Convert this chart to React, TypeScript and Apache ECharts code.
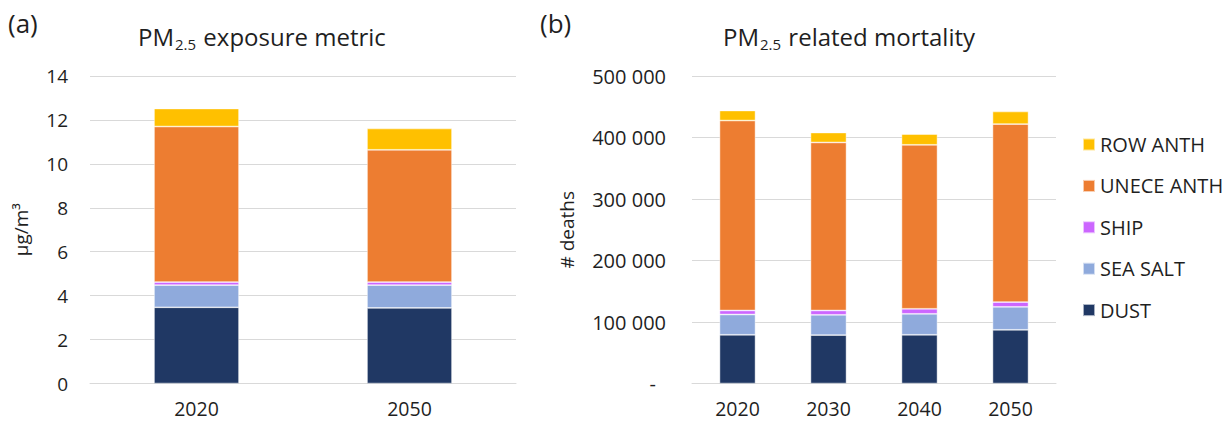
import React, { useEffect, useRef } from "react";
import * as echarts from "echarts";

// Panel (a): PM2.5 exposure metric, µg/m³
const exposureYears = ["2020", "2050"];
const exposureDust = [3.47, 3.44];
const exposureSeaSalt = [1.01, 1.04];
const exposureShip = [0.14, 0.14];
const exposureUnece = [7.08, 6.02];
const exposureRow = [0.82, 0.97];

// Panel (b): PM2.5 related mortality, # deaths
const mortalityYears = ["2020", "2030", "2040", "2050"];
const mortalityDust = [79200, 78700, 79200, 87300];
const mortalitySeaSalt = [33000, 33000, 34100, 37400];
const mortalityShip = [6500, 7000, 8200, 7700];
const mortalityUnece = [308900, 273200, 266600, 289400];
const mortalityRow = [16300, 16200, 17400, 20500];

const sourceNames = ["DUST", "SEA SALT", "SHIP", "UNECE ANTH", "ROW ANTH"];
const sourceColors = ["#203864", "#8FAADC", "#CC66FF", "#ED7D31", "#FFC000"];
const legendOrder = ["ROW ANTH", "UNECE ANTH", "SHIP", "SEA SALT", "DUST"];

const FONT = "Open Sans";
const TEXT = "#1f1f1f";
const GRID_LINE = "#d9d9d9";

export default function App() {
  const ref = useRef<HTMLDivElement>(null);

  useEffect(() => {
    if (!ref.current) return;
    const chart = echarts.init(ref.current, undefined, { renderer: "svg" });

    const exposureData = [exposureDust, exposureSeaSalt, exposureShip, exposureUnece, exposureRow];
    const mortalityData = [mortalityDust, mortalitySeaSalt, mortalityShip, mortalityUnece, mortalityRow];

    const barStyle = (i: number) => ({
      color: sourceColors[i],
      borderColor: "rgba(255,255,255,0.6)",
      borderWidth: 0.75,
    });

    const series: any[] = [];
    sourceNames.forEach((name, i) => {
      series.push({
        name,
        type: "bar",
        stack: "exposure",
        xAxisIndex: 0,
        yAxisIndex: 0,
        barWidth: 85,
        itemStyle: barStyle(i),
        data: exposureData[i],
      });
    });
    sourceNames.forEach((name, i) => {
      series.push({
        name,
        type: "bar",
        stack: "mortality",
        xAxisIndex: 1,
        yAxisIndex: 1,
        barWidth: 36,
        itemStyle: barStyle(i),
        data: mortalityData[i],
      });
    });

    const titleRich = {
      m: { fontFamily: FONT, fontSize: 24, fontWeight: "normal", color: TEXT, lineHeight: 30, verticalAlign: "middle" },
      s: {
        fontFamily: FONT,
        fontSize: 15,
        fontWeight: "normal",
        color: TEXT,
        lineHeight: 16,
        verticalAlign: "bottom",
        padding: [0, 1, 0, 1],
      },
    };

    const catAxis = (data: string[], gridIndex: number) => ({
      type: "category",
      gridIndex,
      data,
      axisLine: { show: true, lineStyle: { color: GRID_LINE, width: 1 } },
      axisTick: { show: false },
      axisLabel: { fontFamily: FONT, fontSize: 19.5, color: TEXT, margin: 15.5, lineHeight: 19.5 },
    });

    const option: any = {
      animation: false,
      backgroundColor: "#ffffff",
      textStyle: { fontFamily: FONT },
      title: [
        {
          text: "{m|PM}{s|2.5}{m| exposure metric}",
          left: 138,
          top: 21,
          padding: 0,
          textStyle: { fontWeight: "normal", rich: titleRich },
        },
        {
          text: "{m|PM}{s|2.5}{m| related mortality}",
          left: 723,
          top: 21,
          padding: 0,
          textStyle: { fontWeight: "normal", rich: titleRich },
        },
      ],
      graphic: [
        {
          type: "text",
          left: 8,
          top: 10,
          style: { text: "(a)", fontFamily: FONT, fontSize: 26, fill: TEXT },
        },
        {
          type: "text",
          left: 540,
          top: 10,
          style: { text: "(b)", fontFamily: FONT, fontSize: 26, fill: TEXT },
        },
      ],
      legend: {
        data: legendOrder,
        orient: "vertical",
        left: 1082,
        top: 134,
        padding: 0,
        itemWidth: 12,
        itemHeight: 12,
        itemGap: 20.4,
        icon: "rect",
        textStyle: { fontFamily: FONT, fontSize: 20, color: TEXT, lineHeight: 21 },
      },
      grid: [
        { left: 90, top: 76, width: 426, height: 307.5, containLabel: false },
        { left: 692, top: 76, width: 364, height: 307.5, containLabel: false },
      ],
      xAxis: [catAxis(exposureYears, 0), catAxis(mortalityYears, 1)],
      yAxis: [
        {
          type: "value",
          gridIndex: 0,
          min: 0,
          max: 14,
          interval: 2,
          name: "µg/m³",
          nameLocation: "middle",
          nameGap: 60,
          nameTextStyle: { fontFamily: FONT, fontSize: 19, color: TEXT },
          axisLine: { show: false },
          axisTick: { show: false },
          axisLabel: { fontFamily: FONT, fontSize: 19, color: TEXT, margin: 22 },
          splitLine: { lineStyle: { color: GRID_LINE, width: 1 } },
        },
        {
          type: "value",
          gridIndex: 1,
          min: 0,
          max: 500000,
          interval: 100000,
          name: "# deaths",
          nameLocation: "middle",
          nameGap: 116,
          nameTextStyle: { fontFamily: FONT, fontSize: 19, color: TEXT },
          axisLine: { show: false },
          axisTick: { show: false },
          axisLabel: {
            fontFamily: FONT,
            fontSize: 20,
            color: TEXT,
            margin: 26,
            formatter: (v: number) => (v === 0 ? "{d|-}" : `${v / 1000} 000`),
            rich: { d: { fontFamily: FONT, fontSize: 20, color: TEXT, padding: [0, 10, 0, 0] } },
          },
          splitLine: { lineStyle: { color: GRID_LINE, width: 1 } },
        },
      ],
      series,
    };

    chart.setOption(option);
    return () => chart.dispose();
  }, []);

  return (
    <div
      ref={ref}
      style={{ position: "fixed", left: 0, top: 0, width: 1225, height: 422, background: "#fff" }}
    />
  );
}
